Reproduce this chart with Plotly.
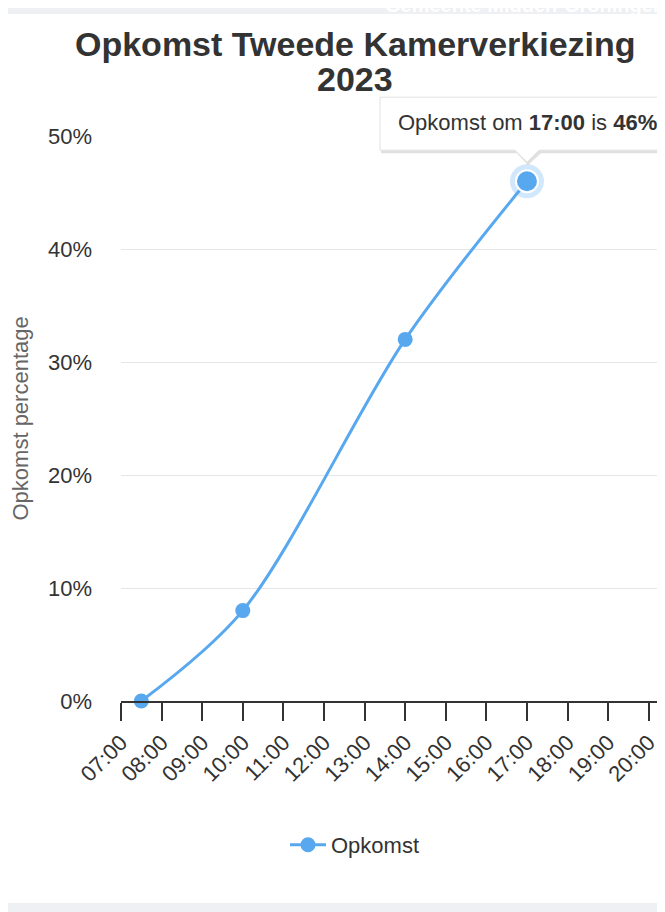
import plotly.graph_objects as go

# ---- data ----
day = "2023-11-22"
times = ["07:30", "10:00", "14:00", "17:00"]
turnout = [0, 8, 32, 46]
series_name = "Opkomst"
title_lines = ["Opkomst Tweede Kamerverkiezing", "2023"]
y_title = "Opkomst percentage"
header_text = "Gemeente Midden-Groningen"
y_ticks = [0, 10, 20, 30, 40, 50]
y_max = 50
x_start, x_end = "07:00", "20:24"

xs = [f"{day} {t}" for t in times]
blue = "#58a8f0"
font = "Liberation Sans, Arial, Helvetica, sans-serif"

# plot area in figure pixels (page has an 8px body margin)
W, H = 657, 904
L, T, B = 113, 128, 693
PW, PH = W - L, B - T


def py(fig_y):
    """figure-pixel y -> paper y"""
    return (B - fig_y) / PH


def px(fig_x):
    return (fig_x - L) / PW


fig = go.Figure()

# halo of hovered point
fig.add_trace(go.Scatter(
    x=[xs[-1]], y=[turnout[-1]], mode="markers",
    marker=dict(size=34, color="rgba(88,168,240,0.28)", line=dict(width=0)),
    showlegend=False, hoverinfo="skip", cliponaxis=False))

fig.add_trace(go.Scatter(
    x=xs, y=turnout, name=series_name, mode="lines+markers",
    line=dict(color=blue, width=3, shape="spline", smoothing=0.9),
    marker=dict(size=15, color=blue, line=dict(width=0)),
    cliponaxis=False))

# hovered point (bigger with white ring)
fig.add_trace(go.Scatter(
    x=[xs[-1]], y=[turnout[-1]], mode="markers",
    marker=dict(size=22, color=blue, line=dict(width=2, color="white")),
    showlegend=False, hoverinfo="skip", cliponaxis=False))

# tooltip box with callout, anchored at the hovered point (pixel offsets)
box = "M -147,84 L 220,84 L 220,31 L 12,31 L 0,19 L -12,31 L -147,31 Z"
shadow = "M -146,82 L 222,82 L 222,28 L 14,28 L 1,16 L -10,28 L -146,28 Z"
for path, fill, lc, lw in [(shadow, "rgba(0,0,0,0.12)", "rgba(0,0,0,0)", 0),
                           (box, "white", "#e2e2e2", 1)]:
    fig.add_shape(type="path", xref="x", yref="paper",
                  xsizemode="pixel", ysizemode="pixel",
                  xanchor=xs[-1], yanchor=turnout[-1] / y_max,
                  path=path, fillcolor=fill, line=dict(width=lw, color=lc),
                  layer="above")

fig.add_annotation(
    x=xs[-1], y=turnout[-1], xref="x", yref="y",
    text=f"{series_name} om <b>{times[-1]}</b> is <b>{turnout[-1]}%</b>",
    showarrow=False, xanchor="left", yanchor="middle",
    xshift=-131, yshift=59,
    font=dict(family=font, size=22, color="#333333"))

# title (two lines)
for line, cy in zip(title_lines, [36, 71]):
    fig.add_annotation(
        x=px(347), y=py(cy), xref="paper", yref="paper",
        text=f"<b>{line}</b>", showarrow=False,
        xanchor="center", yanchor="middle",
        font=dict(family=font, size=34, color="#333333"))

# y-axis title
fig.add_annotation(
    x=px(12), y=0.5, xref="paper", yref="paper",
    text=y_title, textangle=-90, showarrow=False,
    xanchor="center", yanchor="middle",
    font=dict(family=font, size=22, color="#666666"))

# top and bottom grey bands
fig.add_shape(type="rect", xref="paper", yref="paper",
              x0=-0.3, x1=1.1, y0=py(0), y1=py(6),
              fillcolor="#eef0f3", line=dict(width=0), layer="below")
fig.add_shape(type="rect", xref="paper", yref="paper",
              x0=-0.3, x1=1.1, y0=py(895), y1=py(920),
              fillcolor="#eef0f3", line=dict(width=0), layer="below")

# faint header text in the top band (cut off at the top, as in the source)
fig.add_annotation(
    x=px(375), y=py(-3), xref="paper", yref="paper",
    text=f"<b>{header_text}</b>", showarrow=False,
    xanchor="left", yanchor="middle",
    font=dict(family=font, size=20, color="#ffffff"))

fig.update_layout(
    width=W, height=H,
    margin=dict(l=L, r=0, t=T, b=H - B),
    paper_bgcolor="white", plot_bgcolor="white",
    font=dict(family=font, color="#333333"),
    showlegend=True,
    legend=dict(orientation="h", x=px(347), xanchor="center",
                y=py(837), yanchor="middle",
                font=dict(family=font, size=22, color="#333333"),
                itemwidth=36),
    hovermode=False,
)

fig.update_xaxes(
    type="date", range=[f"{day} {x_start}", f"{day} {x_end}"],
    dtick=3600000, tick0=f"{day} 07:00", tickformat="%H:%M",
    tickangle=-45, ticks="outside", ticklen=18, tickwidth=2, tickcolor="#333333",
    showline=True, linecolor="#333333", linewidth=2,
    showgrid=False, zeroline=False,
    tickfont=dict(family=font, size=22, color="#333333"))

fig.update_yaxes(
    range=[0, y_max], tickvals=y_ticks, ticktext=[f"{v}%" for v in y_ticks],
    showgrid=True, gridcolor="#e6e6e6", gridwidth=1,
    zeroline=False, showline=False, ticks="",
    ticklabelstandoff=28,
    tickfont=dict(family=font, size=22, color="#333333"))

fig.write_html("out.html")
